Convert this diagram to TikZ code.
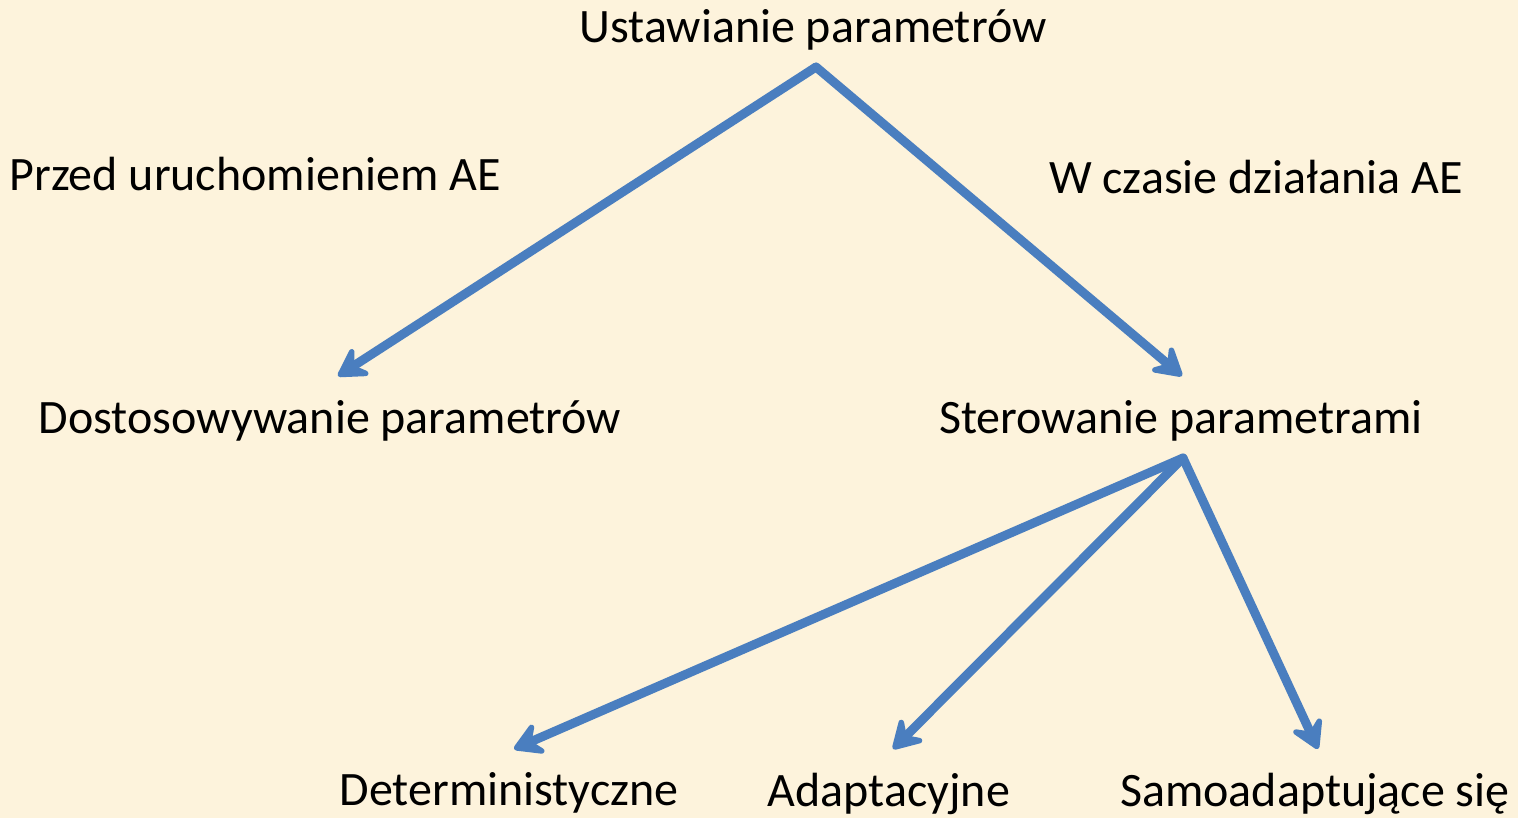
\documentclass[tikz,border=0pt]{standalone}
\usepackage{fontspec}
\setmainfont{Carlito}
\usetikzlibrary{arrows.meta}
\definecolor{parchment}{HTML}{FDF3DC}
\definecolor{linkblue}{HTML}{4A7EBF}
\begin{document}
\begin{tikzpicture}[x=1pt,y=-1pt,
  lbl/.style={anchor=base,inner sep=0pt,font=\fontsize{48}{56}\selectfont},
  link/.style={draw=linkblue,line width=9pt,line cap=round,line join=round,
    -{Stealth[length=36pt,width=42pt,inset=14pt,round]}}]
  \fill[parchment] (0,0) rectangle (1518,818);
  \useasboundingbox (0,0) rectangle (1518,818);

  % node labels
  \node[lbl] (root) at (813,43) {Ustawianie parametrów};
  \node[lbl] (pre)  at (255,191) {Przed uruchomieniem AE};
  \node[lbl] (run)  at (1256,194) {W czasie działania AE};
  \node[lbl] (tune) at (330,433) {Dostosowywanie parametrów};
  \node[lbl] (ctrl) at (1181,433) {Sterowanie parametrami};
  \node[lbl] (det)  at (509,805) {Deterministyczne};
  \node[lbl] (adap) at (889,806) {Adaptacyjne};
  \node[lbl] (self) at (1315,806) {Samoadaptujące się};

  % connector end points
  \coordinate (rootS) at (816,67);
  \coordinate (tuneN) at (338,376);
  \coordinate (ctrlN) at (1182,376);
  \coordinate (ctrlS) at (1183,458);
  \coordinate (detN)  at (514,749);
  \coordinate (adapN) at (893,749);
  \coordinate (selfN) at (1318,749);

  \draw[link] (rootS) -- (tuneN);
  \draw[link] (rootS) -- (ctrlN);
  \draw[link] (ctrlS) -- (detN);
  \draw[link] (ctrlS) -- (adapN);
  \draw[link] (ctrlS) -- (selfN);
\end{tikzpicture}
\end{document}
